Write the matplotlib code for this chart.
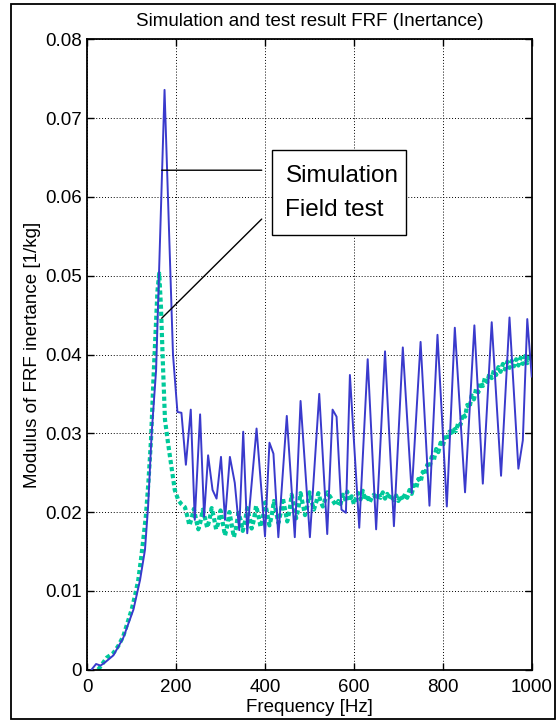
import matplotlib
matplotlib.use('Agg')
import matplotlib.pyplot as plt
from matplotlib.patches import Rectangle

plt.rcParams['font.family'] = ['Liberation Sans', 'DejaVu Sans']

# simulation FRF (vertices)
sim_freq = [10, 20, 30, 40, 59, 81, 104, 119, 130, 137, 145, 155, 174, 193, 203, 212,
            222, 233, 242, 254, 263, 272, 282, 291, 301, 310, 321, 332, 342, 351, 360,
            381, 400, 410, 419, 430, 449, 467, 480, 501, 522, 540, 552, 561, 572, 582,
            591, 612, 631, 650, 670, 690, 710, 730, 750, 770, 788, 809, 827, 850, 871,
            890, 910, 931, 950, 970, 980, 990, 1000]
sim_val = [0.0, 0.0007, 0.0005, 0.0009, 0.0018, 0.0040, 0.0076, 0.0114, 0.0152, 0.0207,
           0.0300, 0.0380, 0.0736, 0.0400, 0.0327, 0.0326, 0.0260, 0.0330, 0.0190, 0.0324,
           0.0194, 0.0272, 0.0228, 0.0217, 0.0270, 0.0190, 0.0270, 0.0237, 0.0177, 0.0302,
           0.0173, 0.0306, 0.0169, 0.0288, 0.0274, 0.0168, 0.0322, 0.0168, 0.0341, 0.0168,
           0.0350, 0.0172, 0.0330, 0.0321, 0.0203, 0.0199, 0.0374, 0.0180, 0.0394, 0.0178,
           0.0404, 0.0182, 0.0409, 0.0224, 0.0416, 0.0208, 0.0425, 0.0207, 0.0434, 0.0225,
           0.0437, 0.0236, 0.0441, 0.0246, 0.0447, 0.0255, 0.0291, 0.0445, 0.0372]

# field test FRF
test_freq = [25, 35, 44, 59, 70, 81, 90, 100, 108, 115, 121, 126, 132, 137.5, 143.5, 149,
             154, 158, 162, 166, 170, 175, 182, 190, 197, 205, 212,
             220, 225, 230, 235, 240, 245, 250, 255, 260, 265, 270, 275, 280, 285, 290,
             295, 300, 305, 310, 315, 320, 325, 330, 335, 340, 345, 350, 355, 360, 365,
             370, 375, 380, 385, 390, 395, 400, 405, 410, 415, 420, 425, 430, 435, 440,
             445, 450, 455, 460, 465, 470, 475, 480, 485, 490, 495, 500, 505, 510, 515,
             520, 525, 530, 535, 540,
             560, 565, 570, 575, 580, 585, 590, 595, 600, 605, 610, 615, 620, 625, 630,
             635, 640, 645, 650, 655, 660, 665, 670, 675, 680, 685, 690, 695, 700, 705,
             710, 715, 720, 725, 730, 735, 740, 745, 750, 755, 760, 765, 770, 775, 780,
             785, 790, 795, 800, 805, 810, 815, 820, 825, 830, 835, 840, 845, 850, 855,
             860, 865, 870, 875, 880, 885, 890, 895, 900, 905, 910, 915, 920, 925, 930,
             935, 940, 945, 950, 955, 960, 965, 970, 975, 980, 985, 990, 995, 1000]
test_val = [0.0, 0.0008, 0.0015, 0.0021, 0.0030, 0.0042, 0.0058, 0.0076, 0.0095, 0.0114,
            0.0140, 0.0164, 0.0195, 0.0236, 0.0291, 0.0368, 0.0430, 0.0480, 0.0503, 0.0460,
            0.0393, 0.0317, 0.0287, 0.0255, 0.0228, 0.0215, 0.0210,
            0.0206, 0.0195, 0.0183, 0.0192, 0.0204, 0.0190, 0.0178, 0.0188, 0.0203, 0.0192,
            0.0180, 0.0190, 0.0205, 0.0193, 0.0178, 0.0186, 0.0202, 0.0186, 0.0170, 0.0182,
            0.0200, 0.0184, 0.0168, 0.0180, 0.0199, 0.0190, 0.0176, 0.0188, 0.0205, 0.0193,
            0.0179, 0.0190, 0.0208, 0.0196, 0.0181, 0.0192, 0.0212, 0.0198, 0.0183, 0.0195,
            0.0214, 0.0200, 0.0186, 0.0198, 0.0218, 0.0203, 0.0188, 0.0201, 0.0222, 0.0207,
            0.0192, 0.0204, 0.0224, 0.0210, 0.0196, 0.0207, 0.0225, 0.0213, 0.0203, 0.0212,
            0.0224, 0.0214, 0.0207, 0.0215, 0.0225,
            0.0208, 0.0214, 0.0210, 0.0222, 0.0216, 0.0226, 0.0214, 0.0220, 0.0210, 0.0218,
            0.0224, 0.0216, 0.0227, 0.0215, 0.0222, 0.0212, 0.0218, 0.0222, 0.0216, 0.0224,
            0.0218, 0.0225, 0.0217, 0.0223, 0.0216, 0.0222, 0.0215, 0.0221, 0.0214, 0.0221,
            0.0215, 0.0223, 0.0218, 0.0228, 0.0223, 0.0234, 0.0230, 0.0242, 0.0238, 0.0251,
            0.0247, 0.0260, 0.0256, 0.0270, 0.0266, 0.0280, 0.0276, 0.0288, 0.0284, 0.0295,
            0.0291, 0.0302, 0.0297, 0.0308, 0.0303, 0.0314, 0.0311, 0.0325, 0.0321, 0.0336,
            0.0332, 0.0348, 0.0343, 0.0357, 0.0352, 0.0365, 0.0360, 0.0371, 0.0365, 0.0376,
            0.0370, 0.0380, 0.0374, 0.0384, 0.0378, 0.0388, 0.0381, 0.0391, 0.0383, 0.0392,
            0.0385, 0.0394, 0.0386, 0.0396, 0.0388, 0.0398, 0.0389, 0.0400, 0.0392]

x_ticks = [0, 200, 400, 600, 800, 1000]
y_ticks = [0, 0.01, 0.02, 0.03, 0.04, 0.05, 0.06, 0.07, 0.08]
y_labels = ['0', '0.01', '0.02', '0.03', '0.04', '0.05', '0.06', '0.07', '0.08']

fig = plt.figure(figsize=(5.6, 7.22), dpi=100)
ax = fig.add_axes([0.1557, 0.0727, 0.7938, 0.8726])

ax.plot(test_freq, test_val, color='#00c99a', lw=3.0, dashes=(1, 0.7),
        dash_capstyle='butt', zorder=2)
ax.plot(sim_freq, sim_val, color='#3a3acc', lw=1.4, zorder=3)

ax.set_xlim(0, 1000)
ax.set_ylim(0, 0.08)
ax.set_xticks(x_ticks)
ax.set_yticks(y_ticks)
ax.set_yticklabels(y_labels)
ax.tick_params(direction='in', length=5, width=1, top=True, right=True,
               labelsize=13.5, colors='black')
ax.tick_params(axis='x', pad=7)
ax.tick_params(axis='y', pad=4)
ax.grid(True, color='black', linestyle=(0, (1, 2)), lw=0.7)
for s in ax.spines.values():
    s.set_linewidth(1.3)

ax.text(0.5, 1.029, 'Simulation and test result FRF (Inertance)', transform=ax.transAxes,
        ha='center', va='center', fontsize=13.5)
ax.set_xlabel('Frequency [Hz]', fontsize=13.5)
ax.xaxis.set_label_coords(0.5, -0.047)
ax.set_ylabel('Modulus of FRF inertance [1/kg]', fontsize=13.5)
ax.yaxis.set_label_coords(-0.105, 0.5)

# legend box with pointer lines
ax.add_patch(Rectangle((415, 0.05517), 302, 0.0108, facecolor='white',
                       edgecolor='black', lw=1.0, zorder=5))
ax.text(446, 0.0627, 'Simulation', fontsize=17.5, va='center', ha='left', zorder=6)
ax.text(446, 0.0584, 'Field test', fontsize=17.5, va='center', ha='left', zorder=6)
ax.annotate('', xy=(167.6, 0.0634), xytext=(392.6, 0.0634),
            arrowprops=dict(arrowstyle='-', color='black', lw=1.0, shrinkA=0, shrinkB=0))
ax.annotate('', xy=(167.6, 0.0446), xytext=(392.6, 0.0572),
            arrowprops=dict(arrowstyle='-', color='black', lw=1.0, shrinkA=0, shrinkB=0))

# outer frame
fig.add_artist(Rectangle((0.019, 0.004), 0.972, 0.991, transform=fig.transFigure,
                         fill=False, edgecolor='black', lw=1.3))

fig.savefig('out.png', dpi=100)
